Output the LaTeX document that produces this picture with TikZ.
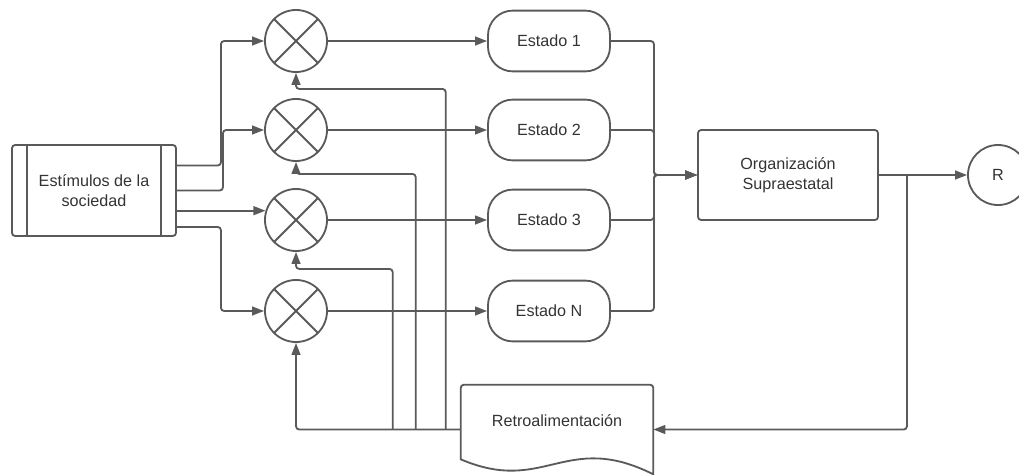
\documentclass[tikz,border=0pt]{standalone}
\usepackage{fontspec}
\setmainfont{Liberation Sans}
\usetikzlibrary{arrows.meta, positioning, calc}
\definecolor{wiregray}{HTML}{5A5A5A}
\definecolor{textgray}{HTML}{333333}

\begin{document}
\begin{tikzpicture}[x=0.025cm, y=-0.025cm,
  every node/.style={font=\fontsize{11.5}{14.2}\selectfont, text=textgray},
  wire/.style={draw=wiregray, line width=1.3pt, rounded corners=0.08cm,
    -{Triangle[length=0.3cm, width=0.22cm]}},
  block/.style={draw=wiregray, line width=1.3pt, rounded corners=0.08cm, align=center},
  mixer/.style={draw=wiregray, line width=1.3pt, circle, minimum size=1.55cm, inner sep=0pt,
    path picture={\draw[wiregray, line width=1.3pt]
      (path picture bounding box.north west) -- (path picture bounding box.south east)
      (path picture bounding box.north east) -- (path picture bounding box.south west);}},
  estado/.style={block, rounded corners=0.62cm, minimum width=3.05cm, minimum height=1.52cm}]
  \useasboundingbox (0,0) rectangle (1019,474);

  % entrada y organizacion central
  \node[block, minimum width=4.1cm, minimum height=2.275cm] (stim) at (94,190.5) {Estímulos de la\\sociedad};
  \draw[wiregray, line width=1.3pt] ($(stim.north west)+(16,0)$) -- ($(stim.south west)+(16,0)$);
  \draw[wiregray, line width=1.3pt] ($(stim.north east)+(-16,0)$) -- ($(stim.south east)+(-16,0)$);
  \node[block, minimum width=4.5cm, minimum height=2.25cm] (org) at (788,175) {Organización\\Supraestatal};
  \node[block, circle, minimum size=1.5cm, inner sep=0pt] (res) at (998,175) {R};

  % sumadores y estados
  \foreach \i/\y/\name in {1/41/1, 2/130/2, 3/220/3, 4/311/N} {
    \node[mixer] (sum\i) at (296,\y) {};
    \node[estado] (est\i) at (549,\y) {Estado \name};
    \draw[wire] (sum\i) -- (est\i);
    \draw[wire] (est\i.east) -- ++(43,0) |- (org.west);
  }

  \draw[wire] ($(stim.east)+(0,-25)$) -- ++(44,0) |- (sum1.west);
  \draw[wire] (stim.east) -- ++(46,0) |- (sum2.west);
  \draw[wire] (stim.east |- sum3.163) -- (sum3.163);
  \draw[wire] ($(stim.east)+(0,36.5)$) -- ++(44,0) |- (sum4.west);
  \draw[wire] (org) -- (res);

  % bloque de retroalimentacion
  \node[minimum width=4.8cm, minimum height=2.225cm] (retro) at (557,429.5) {};
  \draw[wiregray, line width=1.3pt] ($(retro.south west)+(0,-15)$) [rounded corners=0.08cm]
    -- (retro.north west) -- (retro.north east) [sharp corners] -- (retro.south east)
    .. controls ($(retro.south east)+(-88,-44)$) and ($(retro.south west)+(84,21)$)
    .. ($(retro.south west)+(0,-15)$) -- cycle;
  \node (retrotxt) at ($(retro.center)+(0,-9)$) {Retroalimentación};

  \coordinate (tap) at ($(org.east)+(28,0)$);
  \draw[wire] (tap) |- (retro.east);
  \draw[wire] (retro.west) -| (sum4.south);
  \coordinate (fb1) at ($(retro.west)+(-15,0)$);
  \coordinate (fb2) at ($(retro.west)+(-45,0)$);
  \coordinate (fb3) at ($(retro.west)+(-68,0)$);
  \draw[wire] (fb1) |- ($(sum1.south)+(0,16)$) -- (sum1.south);
  \draw[wire] (fb2) |- ($(sum2.south)+(0,12)$) -- (sum2.south);
  \draw[wire] (fb3) |- ($(sum3.south)+(0,17)$) -- (sum3.south);
\end{tikzpicture}
\end{document}
